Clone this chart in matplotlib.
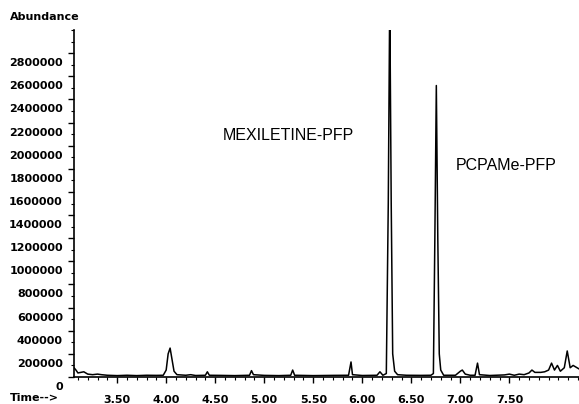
import numpy as np
import matplotlib
matplotlib.use('Agg')
from matplotlib import pyplot as plt
from matplotlib import transforms
from matplotlib.ticker import MultipleLocator, FuncFormatter

# chromatogram trace (time in min, abundance)
time = [3.06, 3.08, 3.10, 3.13, 3.16, 3.20, 3.25, 3.30, 3.34, 3.40, 3.50, 3.60,
        3.70, 3.80, 3.90, 3.97, 4.00, 4.02, 4.04, 4.06, 4.08, 4.11, 4.20, 4.25,
        4.30, 4.40, 4.42, 4.44, 4.55, 4.70, 4.85, 4.87, 4.89, 5.00, 5.15, 5.27,
        5.29, 5.31, 5.50, 5.70, 5.86, 5.885, 5.90, 6.00, 6.15, 6.18, 6.21, 6.245,
        6.265, 6.28, 6.295, 6.31, 6.33, 6.36, 6.45, 6.60, 6.70, 6.725, 6.74, 6.755,
        6.77, 6.785, 6.80, 6.83, 6.95, 7.00, 7.02, 7.05, 7.10, 7.15, 7.175, 7.195,
        7.30, 7.45, 7.50, 7.55, 7.60, 7.65, 7.70, 7.73, 7.76, 7.82, 7.86, 7.90,
        7.93, 7.96, 7.99, 8.02, 8.06, 8.09, 8.12, 8.15, 8.21]
abundance = [80000, 60000, 35000, 40000, 45000, 25000, 20000, 25000, 20000, 15000, 12000, 15000,
             12000, 15000, 14000, 15000, 60000, 200000, 250000, 150000, 50000, 20000, 15000, 20000,
             13000, 15000, 45000, 15000, 14000, 12000, 15000, 55000, 20000, 14000, 12000, 15000,
             60000, 15000, 12000, 14000, 15000, 130000, 20000, 13000, 15000, 45000, 15000, 30000,
             1500000, 3300000, 1500000, 200000, 50000, 20000, 15000, 14000, 15000, 30000, 1200000, 2520000,
             1200000, 200000, 60000, 15000, 15000, 50000, 60000, 25000, 15000, 15000, 120000, 20000,
             13000, 18000, 25000, 15000, 25000, 20000, 35000, 60000, 40000, 40000, 45000, 60000,
             120000, 60000, 100000, 50000, 80000, 225000, 80000, 100000, 70000]

peak_names = ['MEXILETINE-PFP', 'PCPAMe-PFP']
yticks = list(range(0, 2800001, 200000))
xticks = [3.5, 4.0, 4.5, 5.0, 5.5, 6.0, 6.5, 7.0, 7.5]

fig = plt.figure(figsize=(5.79, 4.04), dpi=100, facecolor='w')
ax = fig.add_axes([74/579, 27/404, 505/579, 347/404])

ax.plot(time, abundance, color='black', lw=1.1)
ax.set_xlim(3.06, 8.21)
ax.set_ylim(0, 3000000)

for s in ['top', 'right']:
    ax.spines[s].set_visible(False)
ax.spines['left'].set_linewidth(1.2)
ax.spines['bottom'].set_linewidth(1.2)

ax.set_xticks(xticks)
ax.xaxis.set_major_formatter(FuncFormatter(lambda v, p: '%.2f' % v))
ax.xaxis.set_minor_locator(MultipleLocator(0.1))
ax.set_yticks(yticks)
ax.yaxis.set_major_formatter(FuncFormatter(lambda v, p: '%d' % v))
ax.yaxis.set_minor_locator(MultipleLocator(100000))

ax.tick_params(axis='both', which='major', length=4, width=1, labelsize=8, direction='out')
ax.tick_params(axis='both', which='minor', length=2, width=0.8, direction='out')
ax.tick_params(axis='x', pad=9)
ax.tick_params(axis='y', pad=4)

# labels sit a little below their ticks, as on the printout
off = transforms.ScaledTranslation(0, -9/100, fig.dpi_scale_trans)
for lab in ax.get_yticklabels():
    lab.set_fontweight('bold')
    lab.set_transform(lab.get_transform() + off)
for lab in ax.get_xticklabels():
    lab.set_fontweight('bold')

ax.text(5.25, 2090000, peak_names[0], ha='center', va='center', fontsize=11.5,
        family='Liberation Sans')
ax.text(7.47, 1830000, peak_names[1], ha='center', va='center', fontsize=11.5,
        family='Liberation Sans')

fig.text(10/579, 1 - 17/404, 'Abundance', ha='left', va='center', fontsize=8, fontweight='bold')
fig.text(10/579, 1/404, 'Time-->', ha='left', va='bottom', fontsize=8, fontweight='bold')

plt.savefig('out.png', dpi=100)
